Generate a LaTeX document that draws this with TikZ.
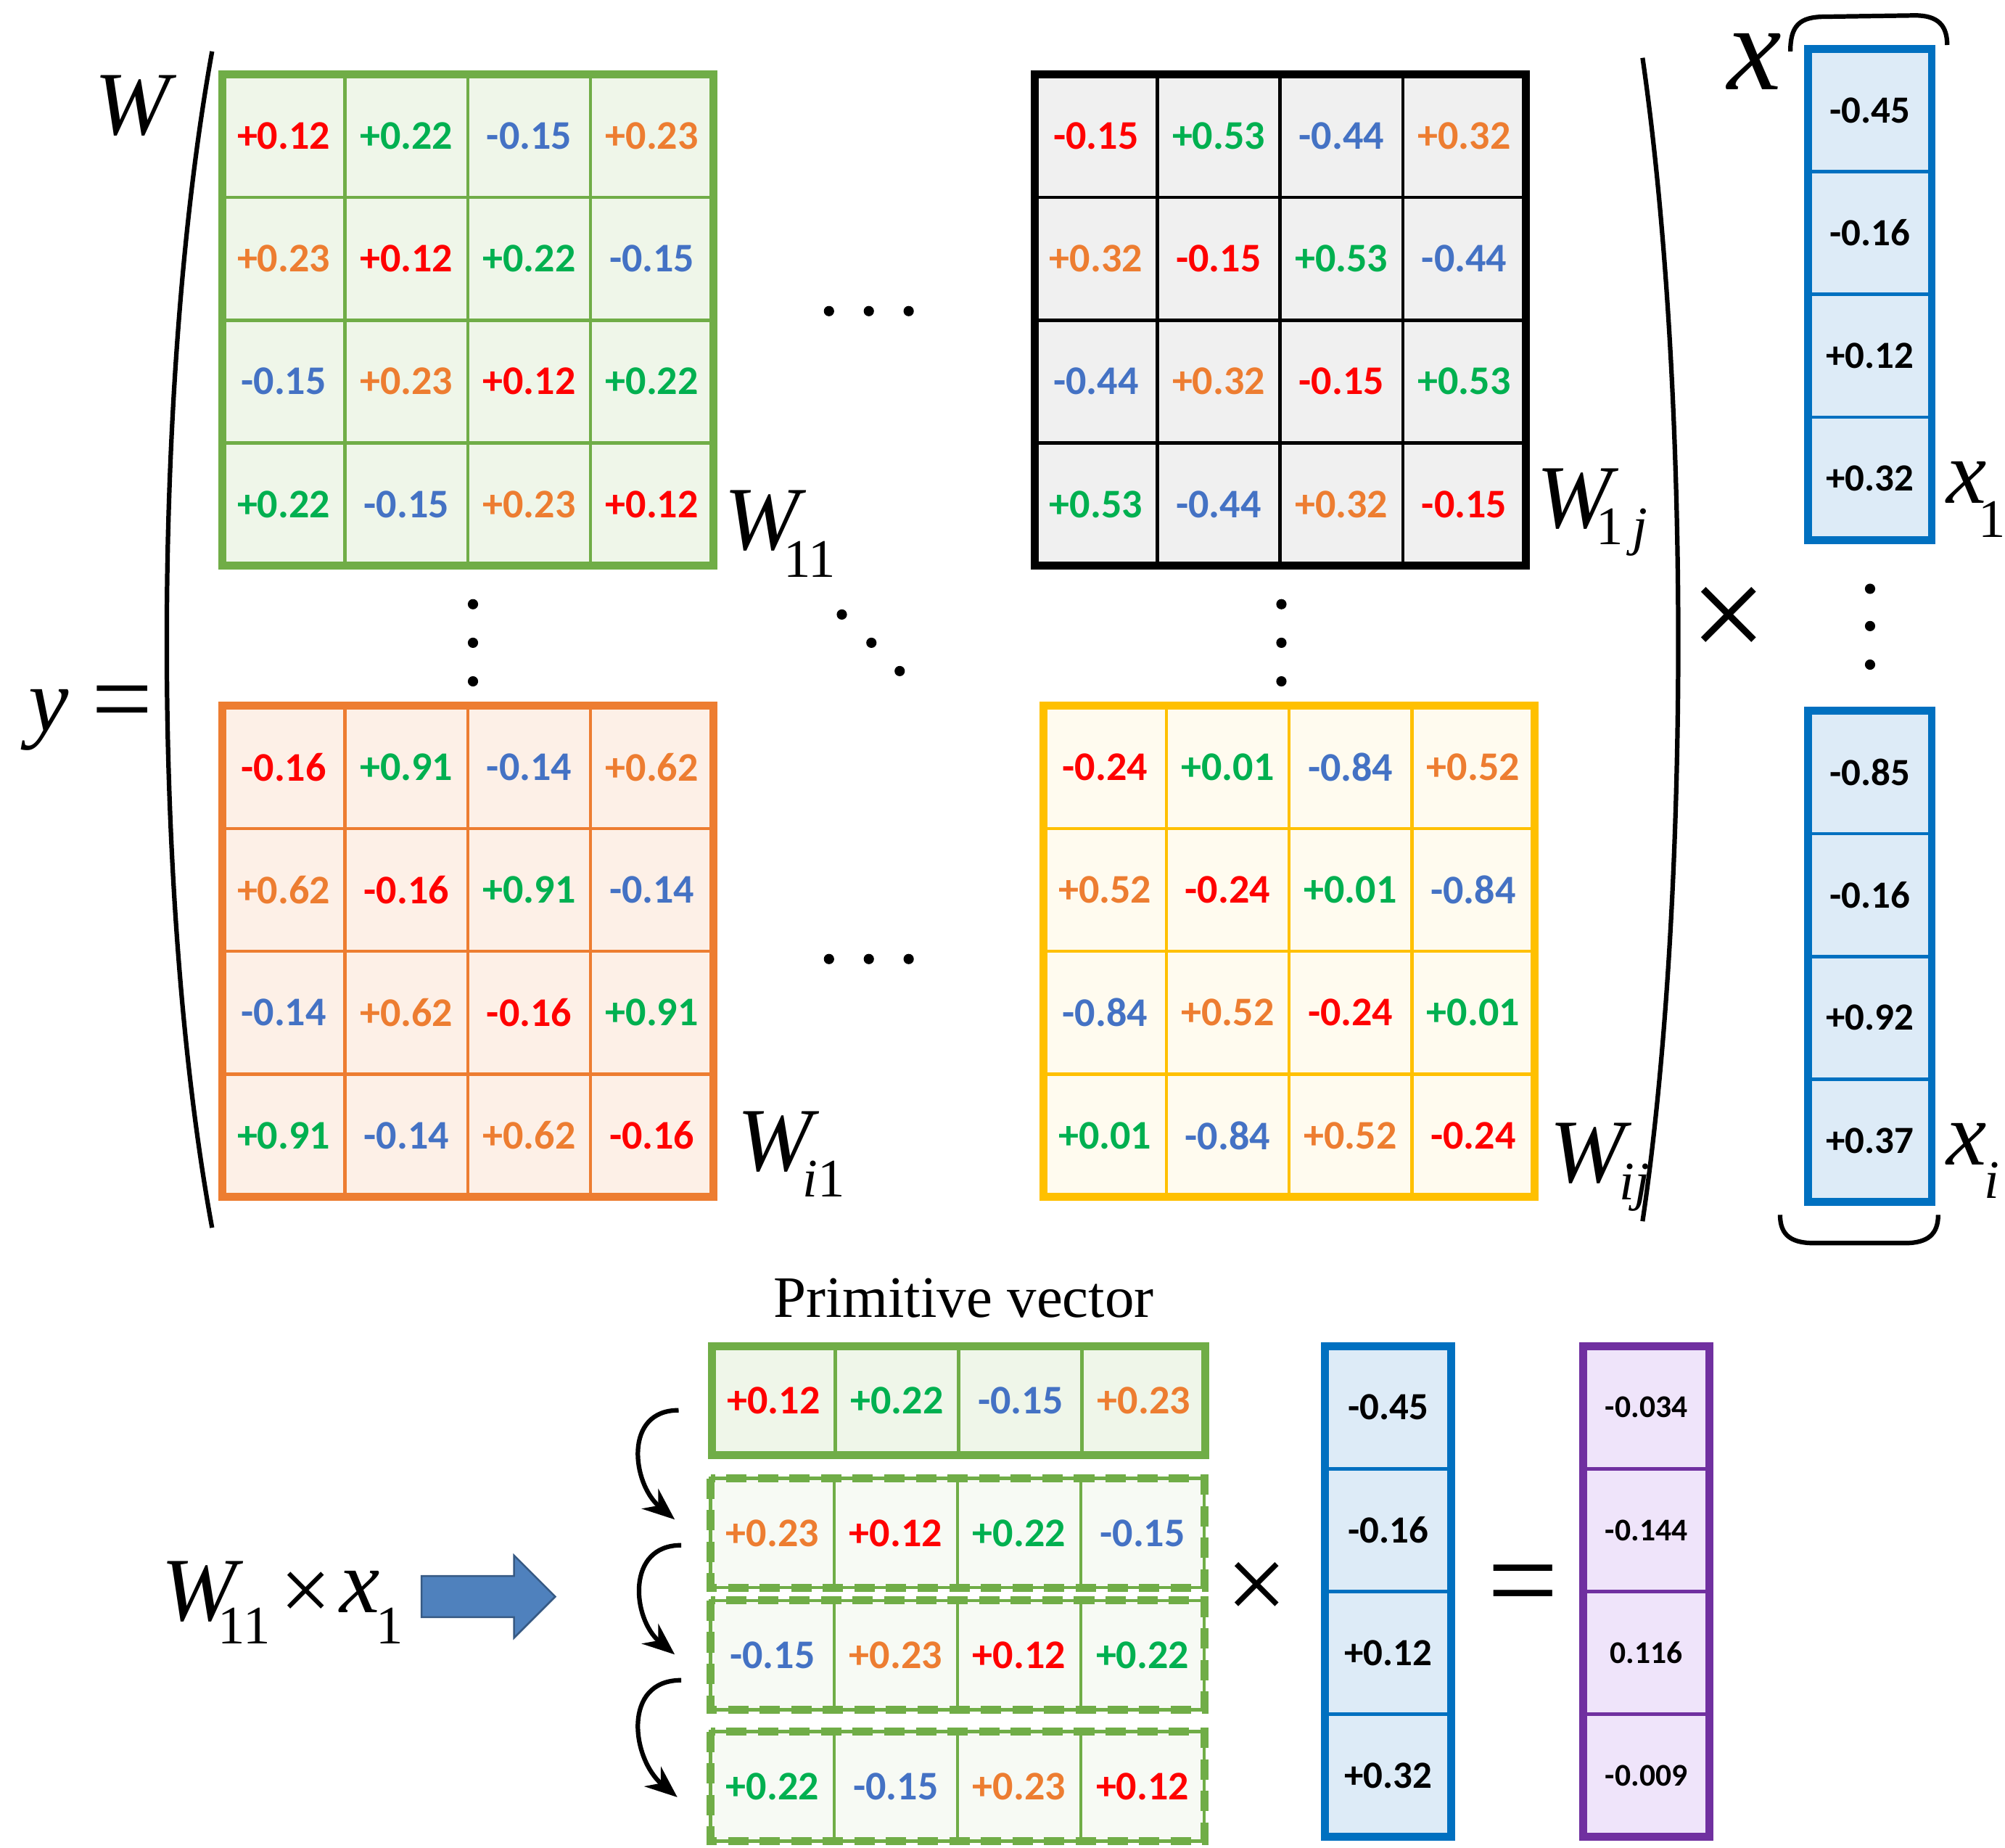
\documentclass[tikz,border=0pt]{standalone}
\usepackage{fontspec}
\setmainfont{Carlito}
\newfontfamily\tms{Liberation Serif}
\usetikzlibrary{arrows.meta}
\definecolor{cr}{HTML}{FF0000}
\definecolor{cg}{HTML}{00B050}
\definecolor{cb}{HTML}{4472C4}
\definecolor{co}{HTML}{ED7D31}
\definecolor{gB}{HTML}{70AD47}\definecolor{gF}{HTML}{EFF6E9}
\definecolor{oB}{HTML}{ED7D31}\definecolor{oF}{HTML}{FDF0E7}
\definecolor{yB}{HTML}{FFC000}\definecolor{yF}{HTML}{FFFBEF}
\definecolor{kF}{HTML}{F0F0F0}
\definecolor{bB}{HTML}{0070C0}\definecolor{bF}{HTML}{DDEBF7}
\definecolor{pB}{HTML}{7030A0}\definecolor{pF}{HTML}{EFE4FA}
\definecolor{arr}{HTML}{4F81BD}
\tikzset{
 cell/.style={draw=#1,line width=1.5pt,minimum width=1.91cm,minimum height=1.91cm,inner sep=0pt,outer sep=0pt,anchor=north west,font=\fontsize{18}{18}\selectfont\bfseries},
 rcell/.style={draw=#1,line width=1.5pt,minimum width=1.92cm,minimum height=1.7cm,inner sep=0pt,outer sep=0pt,anchor=north west,font=\fontsize{18}{18}\selectfont\bfseries},
 vcell/.style={draw=bB,fill=bF,line width=1.5pt,minimum width=1.92cm,minimum height=1.91cm,inner sep=0pt,outer sep=0pt,anchor=north west,font=\fontsize{17}{17}\selectfont\bfseries},
 pcell/.style={draw=pB,fill=pF,line width=1.5pt,minimum width=1.96cm,minimum height=1.91cm,inner sep=0pt,outer sep=0pt,anchor=north west,font=\fontsize{14}{14}\selectfont\bfseries},
 mth/.style={font=\tms\itshape\fontsize{40}{40}\selectfont,inner sep=0pt},
 sub/.style={font=\tms\fontsize{24}{24}\selectfont,inner sep=0pt},
 tim/.style={font=\tms\fontsize{#1}{#1}\selectfont,inner sep=0pt},
 paren/.style={line width=2pt},
 dot/.style={circle,fill=black,inner sep=0pt,minimum size=0.16cm},
}
\newcommand\val[5]{\ifcase#1\color{cr}#2\or\color{cg}#3\or\color{cb}#4\or\color{co}#5\fi}
\newcommand\circmat[9]{%
 \foreach \r in {0,...,3}{\foreach \c in {0,...,3}{%
  \pgfmathtruncatemacro\idx{mod(\c-\r+4,4)}%
  \node[cell=#7,fill=#8] (#9-\r-\c) at (#1+\c*95.5,#2+\r*95.5) {\val{\idx}{#3}{#4}{#5}{#6}};}}%
 \draw[#7,line width=3.5pt] (#9-0-0.north west) rectangle (#9-3-3.south east);}
\newcommand\circrow[5]{%
 \foreach \c in {0,...,3}{%
  \pgfmathtruncatemacro\idx{mod(\c-#3+4,4)}%
  \node[rcell=gB,fill=#4] (#5-\c) at (#1+\c*96,#2) {\val{\idx}{+0.12}{+0.22}{-0.15}{+0.23}};}}
\begin{document}
\begin{tikzpicture}[x=0.02cm,y=-0.02cm]
\useasboundingbox (0,0) rectangle (1560,1437);
\circmat{173}{58}{+0.12}{+0.22}{-0.15}{+0.23}{gB}{gF}{A}
\circmat{805}{58}{-0.15}{+0.53}{-0.44}{+0.32}{black}{kF}{B}
\circmat{173}{549}{-0.16}{+0.91}{-0.14}{+0.62}{oB}{oF}{C}
\circmat{812}{549}{-0.24}{+0.01}{-0.84}{+0.52}{yB}{yF}{D}
% labels
\node[mth] (W) at (103,82) {W};
\node[mth] (y) at (38,560) {y};
\node[tim=48] (eq1) at (95,553) {=};
\node[mth] (L11) at (593,405) {W};\node[sub] at (630,435) {11};
\node[mth] (L1j) at (1225,388) {W};\node[sub] at (1262,414) {1\,\itshape j};
\node[mth] (Li1) at (603,888) {W};\node[sub] at (641,917) {\itshape i\upshape 1};
\node[mth] (Lij) at (1235,897) {W};\node[sub] at (1272,924) {\itshape ij};
% parens
\coordinate (pl1) at (165,40);\coordinate (pl2) at (165,955);
\draw[paren] (pl1) .. controls (118,300) and (118,700) .. (pl2);
\coordinate (pr1) at (1278,45);\coordinate (pr2) at (1278,950);
\draw[paren] (pr1) .. controls (1315,300) and (1315,700) .. (pr2);
% dots
\foreach \n/\px/\py in {h1a/645/242,h1b/676/242,h1c/707/242,h2a/645/746,h2b/676/746,h2c/707/746,
 v1a/368/470,v1b/368/500,v1c/368/530,v2a/997/470,v2b/997/500,v2c/997/530,
 d1/655/478,d2/678/500,d3/700/522,v3a/1455/458,v3b/1455/487,v3c/1455/517}
 \node[dot] (\n) at (\px,\py) {};
\node[tim=60] (times1) at (1345,485) {×};
% vector x
\foreach \v [count=\i from 0] in {-0.45,-0.16,+0.12,+0.32}
 \node[vcell] (xa\i) at (1407,38+\i*95.5) {\v};
\draw[bB,line width=3.5pt] (xa0.north west) rectangle (xa3.south east);
\foreach \v [count=\i from 0] in {-0.85,-0.16,+0.92,+0.37}
 \node[vcell] (xb\i) at (1407,553+\i*95.5) {\v};
\draw[bB,line width=3.5pt] (xb0.north west) rectangle (xb3.south east);
\node[mth,font=\tms\itshape\fontsize{54}{54}\selectfont] (X) at (1365,48) {x};
\node[mth] (x1) at (1530,375) {x};\node[sub] at (1550,404) {1};
\node[mth] (xi) at (1530,890) {x};\node[sub,font=\tms\itshape\fontsize{24}{24}\selectfont] at (1550,918) {i};
% braces
\coordinate (b1) at (1393,40);\coordinate (b2) at (1515,35);
\draw[paren] (b1) .. controls (1393,20) and (1400,13) .. (1420,13) -- (1490,12) .. controls (1508,12) and (1515,20) .. (b2);
\coordinate (b3) at (1385,945);\coordinate (b4) at (1508,945);
\draw[paren] (b3) .. controls (1385,962) and (1395,967) .. (1412,967) -- (1482,967) .. controls (1500,967) and (1508,960) .. (b4);
% bottom
\node[tim=26] (pv) at (750,1010) {Primitive vector};
\circrow{554}{1047}{0}{gF}{R0}
\draw[gB,line width=3.5pt] (R0-0.north west) rectangle (R0-3.south east);
\circrow{553}{1150}{1}{gF!50}{R1}
\draw[gB,line width=3.5pt,dash pattern=on 9pt off 5pt] (R1-0.north west) rectangle (R1-3.south east);
\circrow{553}{1245}{2}{gF!50}{R2}
\draw[gB,line width=3.5pt,dash pattern=on 9pt off 5pt] (R2-0.north west) rectangle (R2-3.south east);
\circrow{553}{1347}{3}{gF!50}{R3}
\draw[gB,line width=3.5pt,dash pattern=on 9pt off 5pt] (R3-0.north west) rectangle (R3-3.south east);
% curved arrows
\coordinate (a1) at (528,1097);\coordinate (e1) at (525,1182);
\coordinate (a2) at (530,1202);\coordinate (e2) at (525,1287);
\coordinate (a3) at (530,1307);\coordinate (e3) at (527,1398);
\foreach \s/\e in {a1/e1,a2/e2,a3/e3}
 \draw[line width=2pt,-{Stealth[length=0.5cm,width=0.4cm]}] (\s) to[out=180,in=140,looseness=1.3] (\e);
% W11 x x1
\node[mth] (Wb) at (155,1238) {W};\node[sub] at (190,1265) {11};
\node[tim=40] (tb) at (238,1242) {×};
\node[mth] (xb) at (280,1238) {x};\node[sub] at (303,1265) {1};
\fill[arr,draw=arr!70!black,line width=0.8pt] (328,1226) -- (400,1226) -- (400,1210) -- (432,1242) -- (400,1274) -- (400,1258) -- (328,1258) -- cycle;
\node[tim=48] (tc) at (978,1238) {×};
\foreach \v [count=\i from 0] in {-0.45,-0.16,+0.12,+0.32}
 \node[vcell,minimum width=1.96cm] (yv\i) at (1031,1047+\i*95.5) {\v};
\draw[bB,line width=3.5pt] (yv0.north west) rectangle (yv3.south east);
\node[tim=56] (eq2) at (1185,1240) {=};
\foreach \v [count=\i from 0] in {-0.034,-0.144,0.116,-0.009}
 \node[pcell] (pv\i) at (1232,1047+\i*95.5) {\v};
\draw[pB,line width=3.5pt] (pv0.north west) rectangle (pv3.south east);
\end{tikzpicture}
\end{document}
